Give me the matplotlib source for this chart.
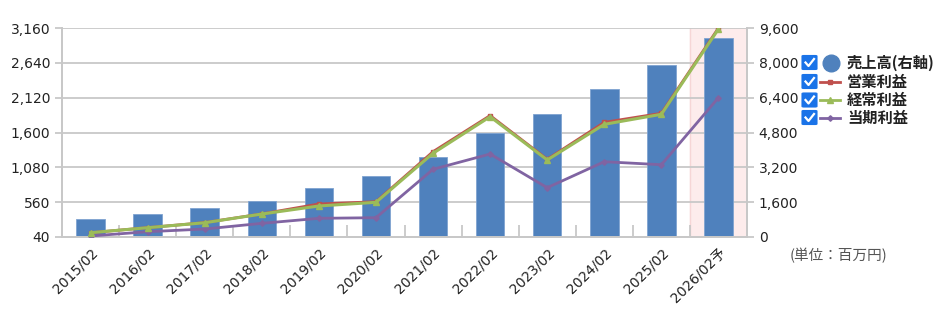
import matplotlib
matplotlib.use("Agg")
import matplotlib.pyplot as plt
from matplotlib.patches import FancyBboxPatch
from matplotlib.lines import Line2D
import numpy as np

plt.rcParams['font.family'] = ['DejaVu Sans', 'Noto Sans CJK JP']

categories = ["2015/02", "2016/02", "2017/02", "2018/02", "2019/02", "2020/02",
              "2021/02", "2022/02", "2023/02", "2024/02", "2025/02", "2026/02予"]
sales = [810, 1040, 1330, 1670, 2235, 2815, 3690, 4760, 5630, 6790, 7900, 9120]
operating = [104, 180, 255, 385, 533, 567, 1314, 1853, 1200, 1752, 1887, 3160]
ordinary = [104, 179, 253, 383, 503, 558, 1290, 1836, 1190, 1722, 1872, 3145]
net = [55, 119, 159, 244, 319, 328, 1051, 1279, 776, 1164, 1119, 2120]
left_ticks = [40, 560, 1080, 1600, 2120, 2640, 3160]
right_ticks = [0, 1600, 3200, 4800, 6400, 8000, 9600]
legend_labels = ["売上高(右軸)", "営業利益", "経常利益", "当期利益"]

c_bar = "#4f81bd"
c_op = "#c0504d"
c_ord = "#9bbb59"
c_net = "#8064a2"
grid_c = "#c8c8c8"
txt_c = "#222222"

W, H = 948, 323
fig = plt.figure(figsize=(W / 100, H / 100), dpi=100)
L, R, T, B = 62, 747, 28, 237
ax1 = fig.add_axes([L / W, 1 - B / H, (R - L) / W, (B - T) / H])
ax2 = ax1.twinx()

x = np.arange(len(categories))
n = len(categories)

# highlight forecast
ax1.axvspan(n - 1.5, n - 0.5, color="#fdecec", zorder=0)
ax1.axvline(n - 1.5, color="#f6d6d6", lw=1, zorder=0.5)

ax1.bar(x, sales, width=0.5, color=c_bar, edgecolor="#7fa3d0", linewidth=0.6, zorder=2)
ax1.set_ylim(0, 9600)
ax1.set_xlim(-0.5, n - 0.5)
ax1.set_yticks(right_ticks)
ax1.set_yticklabels([f"{v:,}" for v in right_ticks])
ax1.yaxis.tick_right()
ax1.grid(axis="y", color=grid_c, lw=1.3, zorder=1)
ax1.set_axisbelow(True)

ax2.set_zorder(ax1.get_zorder() + 1)
ax2.patch.set_visible(False)
ax2.plot(x, operating, color=c_op, lw=2, marker="s", ms=3.5, zorder=3)
ax2.plot(x, ordinary, color=c_ord, lw=2.2, marker="^", ms=4, zorder=4)
ax2.plot(x, net, color=c_net, lw=2, marker="D", ms=2.8, zorder=3)
ax2.set_ylim(40, 3160)
ax2.set_yticks(left_ticks)
ax2.set_yticklabels([f"{v:,}" for v in left_ticks])
ax2.yaxis.tick_left()

for a in (ax1, ax2):
    for s in a.spines.values():
        s.set_color(grid_c)
        s.set_linewidth(1.3)
    a.spines["top"].set_visible(False)
    a.tick_params(axis="y", colors=grid_c, labelcolor=txt_c, labelsize=10, length=5, width=1.3)

ax1.set_xticks(x)
ax1.set_xticklabels(categories, rotation=45, ha="right", rotation_mode="anchor",
                    fontsize=10, color=txt_c)
ax1.tick_params(axis="x", length=0, pad=6)
ax1.set_xticks(np.arange(n + 1) - 0.5, minor=True)
ax1.tick_params(axis="x", which="minor", direction="in", length=9, width=1.3, colors=grid_c)

fig.text(790 / W, 1 - 256 / H, "(単位：百万円)", fontsize=10.5, color="#555555",
         ha="left", va="center", family=["Noto Sans CJK JP", "DejaVu Sans"])

# legend with checkboxes
rows = [62.5, 81.5, 100, 117.5]
for i, (lab, yy) in enumerate(zip(legend_labels, rows)):
    yf = 1 - yy / H
    cb = FancyBboxPatch((802 / W, yf - 7 / H), 15 / W, 14 / H,
                        boxstyle="round,pad=0,rounding_size=0.002",
                        transform=fig.transFigure, facecolor="#1a73e8",
                        edgecolor="#1a73e8", lw=0.8)
    fig.patches.append(cb)
    fig.add_artist(Line2D([805.5 / W, 808.5 / W, 814 / W],
                          [yf, yf - 3.5 / H, yf + 3.5 / H],
                          transform=fig.transFigure, color="white", lw=1.6))
    if i == 0:
        fig.add_artist(Line2D([831 / W], [yf], transform=fig.transFigure,
                              marker="o", ms=12, color=c_bar, lw=0))
    else:
        col, mk, ms = [(c_op, "s", 3.5), (c_ord, "^", 4), (c_net, "D", 2.8)][i - 1]
        fig.add_artist(Line2D([820 / W, 840 / W], [yf, yf], transform=fig.transFigure,
                              color=col, lw=2))
        fig.add_artist(Line2D([830 / W], [yf], transform=fig.transFigure,
                              color=col, marker=mk, ms=ms, lw=0))
    fig.text(847 / W, yf, lab, fontsize=11, fontweight="bold", color=txt_c,
             ha="left", va="center", family=["Noto Sans CJK JP", "DejaVu Sans"])

fig.savefig("out.png", dpi=100)
